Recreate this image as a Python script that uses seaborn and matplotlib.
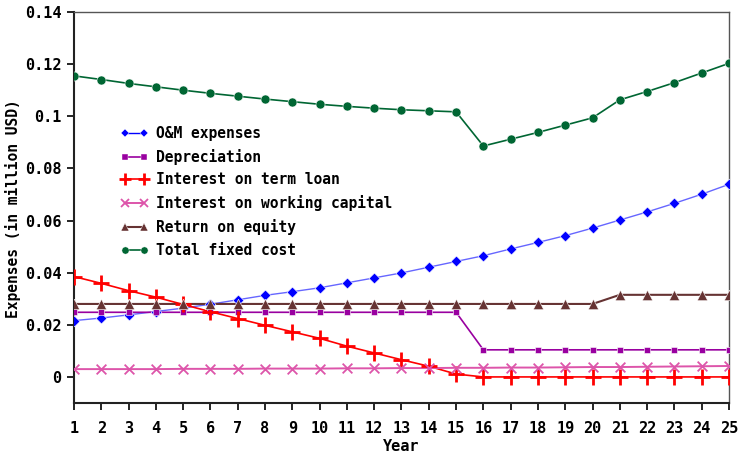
import numpy as np
import pandas as pd
import matplotlib
matplotlib.use("Agg")
import matplotlib.pyplot as plt
import seaborn as sns
from matplotlib.lines import Line2D

years = list(range(1, 26))

om_expenses = [0.0216, 0.0226, 0.0238, 0.0251, 0.0264, 0.0279, 0.0296, 0.0313, 0.0327,
               0.0342, 0.0361, 0.0380, 0.0399, 0.0421, 0.0443, 0.0465, 0.0491, 0.0516,
               0.0542, 0.0571, 0.0602, 0.0633, 0.0666, 0.0701, 0.0739]
depreciation = [0.0248] * 15 + [0.0104] * 10
interest_term_loan = [0.0385, 0.0359, 0.0331, 0.0306, 0.0278, 0.0250, 0.0224, 0.0198, 0.0173,
                      0.0148, 0.0118, 0.0092, 0.0066, 0.0041, 0.0011] + [0.0] * 10
interest_working_capital = [0.0030, 0.0030, 0.0030, 0.0030, 0.0031, 0.0031, 0.0031, 0.0032,
                            0.0032, 0.0032, 0.0033, 0.0033, 0.0034, 0.0034, 0.0035, 0.0035,
                            0.0036, 0.0036, 0.0037, 0.0038, 0.0038, 0.0039, 0.0040, 0.0041,
                            0.0042]
return_on_equity = [0.0280] * 20 + [0.0315] * 5
total_fixed_cost = [0.1155, 0.1141, 0.1126, 0.1113, 0.1100, 0.1088, 0.1077, 0.1066, 0.1056,
                    0.1046, 0.1038, 0.1031, 0.1025, 0.1021, 0.1017, 0.0886, 0.0912, 0.0938,
                    0.0966, 0.0994, 0.1063, 0.1095, 0.1129, 0.1166, 0.1203]

series_names = ["O&M expenses", "Depreciation", "Interest on term loan",
                "Interest on working capital", "Return on equity", "Total fixed cost"]
series_values = [om_expenses, depreciation, interest_term_loan,
                 interest_working_capital, return_on_equity, total_fixed_cost]

y_ticks = [0, 0.02, 0.04, 0.06, 0.08, 0.1, 0.12, 0.14]
y_tick_labels = ["0", "0.02", "0.04", "0.06", "0.08", "0.1", "0.12", "0.14"]

styles = {
    "O&M expenses": dict(color="#0000FF", marker="D", ms=5.5, mew=0.5, line_alpha=0.6, lw=1.0),
    "Depreciation": dict(color="#9900A0", marker="s", ms=5, mew=0.5, line_alpha=1.0, lw=1.2),
    "Interest on term loan": dict(color="#FF0000", marker="+", ms=11, mew=2.0, line_alpha=1.0, lw=1.2),
    "Interest on working capital": dict(color="#DD55AA", marker="x", ms=7, mew=1.3, line_alpha=1.0, lw=1.4),
    "Return on equity": dict(color="#663333", marker="^", ms=7.5, mew=0.5, line_alpha=1.0, lw=1.5),
    "Total fixed cost": dict(color="#006633", marker="o", ms=6.5, mew=0.5, line_alpha=1.0, lw=1.2),
}

sns.set_style("ticks")
plt.rcParams["font.family"] = ["DejaVu Sans Mono", "DejaVu Sans"]
plt.rcParams["font.weight"] = "bold"
plt.rcParams["text.color"] = "black"
plt.rcParams["axes.labelcolor"] = "black"
plt.rcParams["xtick.color"] = "black"
plt.rcParams["ytick.color"] = "black"

frames = []
for name, vals in zip(series_names, series_values):
    frames.append(pd.DataFrame({"Year": years, "Value": vals, "Series": name}))
df = pd.concat(frames, ignore_index=True)

fig = plt.figure(figsize=(7.39, 4.55), dpi=100)
ax = fig.add_axes([74 / 739, 52 / 455, 655 / 739, 391 / 455])

for name in series_names:
    st = styles[name]
    sub = df[df["Series"] == name]
    sns.lineplot(data=sub, x="Year", y="Value", ax=ax, color=st["color"],
                 lw=st["lw"], alpha=st["line_alpha"], legend=False)
    crisp = st["marker"] in "+x"
    sns.scatterplot(data=sub, x="Year", y="Value", ax=ax, color=st["color"],
                    marker=st["marker"], s=st["ms"] ** 2,
                    linewidth=st["mew"] if crisp else 0.4,
                    edgecolor=st["color"] if crisp else "white",
                    legend=False, zorder=3)

# Legend handles: two markers joined by a short line
handles = []
for name in series_names:
    st = styles[name]
    crisp = st["marker"] in "+x"
    handles.append(Line2D([0], [0], color=st["color"], lw=st["lw"], marker=st["marker"],
                          ms=st["ms"] * 0.8, mew=st["mew"] if crisp else 0.3,
                          mec=st["color"] if crisp else "white"))
leg = ax.legend(handles, series_names, loc="upper left", bbox_to_anchor=(0.051, 0.742),
                frameon=False, numpoints=2, handlelength=1.9, handletextpad=0.5,
                labelspacing=0.53, prop=dict(family="DejaVu Sans Mono", weight="bold", size=10.5))

ax.set_xlim(1, 25)
ax.set_ylim(-0.01, 0.14)
ax.set_xticks(years)
ax.set_xticklabels([str(y) for y in years])
ax.set_yticks(y_ticks)
ax.set_yticklabels(y_tick_labels)
ax.tick_params(axis="both", direction="out", length=5, width=1.2, labelsize=11, pad=4)
ax.tick_params(axis="x", pad=8)
for lbl in ax.get_xticklabels() + ax.get_yticklabels():
    lbl.set_fontweight("bold")

ax.set_xlabel("Year", fontsize=11, fontweight="bold", labelpad=2)
ax.set_ylabel("Expenses (in million USD)", fontsize=10.5, fontweight="bold")
ax.yaxis.set_label_coords(-0.093, 0.496)
ax.yaxis.label.set_verticalalignment("center")

for side in ["left", "bottom"]:
    ax.spines[side].set_color("#222222")
    ax.spines[side].set_linewidth(1.5)
for side in ["top", "right"]:
    ax.spines[side].set_visible(True)
    ax.spines[side].set_color("#555555")
    ax.spines[side].set_linewidth(1.0)

fig.savefig("out.png", dpi=100)
